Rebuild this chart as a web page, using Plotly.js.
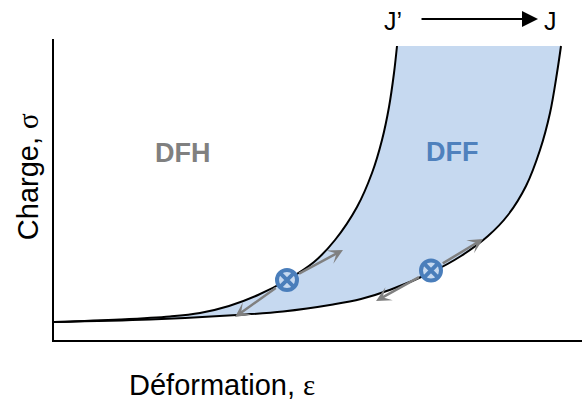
<!DOCTYPE html>
<html>
<head>
<meta charset="utf-8">
<script src="https://cdn.plot.ly/plotly-3.0.1.min.js"></script>
<style>html,body{margin:0;padding:0;background:#fff;}#chart{width:582px;height:400px;}</style>
</head>
<body>
<div id="chart"></div>
<script>
// Curve J' (left, steeper) : strain / stress (arbitrary units)
const strainJp = [0, 66, 116, 146, 175, 204, 233, 260, 281, 303, 318, 328, 335, 340, 343];
const stressJp = [18, 20.5, 23.5, 27, 34, 45, 60, 78, 100, 133, 167, 200, 233, 267, 294];
// Curve J (right)
const strainJ = [0, 96, 183, 229, 279, 307, 337, 378, 407, 434, 454, 472, 486, 496, 503, 507];
const stressJ = [18, 20.5, 25, 28.5, 35.5, 41, 50.5, 68, 84, 104, 125, 154, 190, 227, 267, 294];
// Crack points (circles) on the curves
const pointStrain = [233, 377];
const pointStress = [60, 69.5];
// Gray arrow tips (two per point: up-right, down-left)
const arrowTipStrain = [[289, 181], [429, 322]];
const arrowTipStress = [[90, 23], [101, 39]];
// Region labels
const regionLabels = ['DFH', 'DFF'];
const xTitle = 'Déformation, <span style="font-family:\'Liberation Serif\',serif">ε</span>';
const yTitle = 'Charge, <span style="font-family:\'Liberation Serif\',serif">σ</span>';
const curveLabels = ['J’', 'J'];

const FONT = 'Arial, "Liberation Sans", sans-serif';
const SM = 1;

const traces = [
  {x: strainJp, y: stressJp, mode: 'lines', line: {color: 'rgba(0,0,0,0)', width: 0, shape: 'spline', smoothing: SM},
   hoverinfo: 'skip', showlegend: false},
  {x: strainJ, y: stressJ, mode: 'lines', fill: 'tonexty', fillcolor: '#c6d9f0',
   line: {color: 'rgba(0,0,0,0)', width: 0, shape: 'spline', smoothing: SM}, hoverinfo: 'skip', showlegend: false},
  {x: strainJp, y: stressJp, mode: 'lines', line: {color: '#000', width: 2, shape: 'spline', smoothing: SM}, showlegend: false},
  {x: strainJ, y: stressJ, mode: 'lines', line: {color: '#000', width: 2, shape: 'spline', smoothing: SM}, showlegend: false},
  {x: pointStrain, y: pointStress, mode: 'markers', showlegend: false,
   marker: {symbol: 'circle-x', size: 20, color: '#c6d9f0', line: {color: '#4a7ebb', width: 4}}}
];

const annotations = [];
for (let i = 0; i < pointStrain.length; i++) {
  for (let k = 0; k < 2; k++) {
    annotations.push({x: arrowTipStrain[i][k], y: arrowTipStress[i][k], xref: 'x', yref: 'y',
      ax: pointStrain[i], ay: pointStress[i], axref: 'x', ayref: 'y', text: '',
      showarrow: true, arrowhead: 3, arrowsize: 1, arrowwidth: 2.5, arrowcolor: '#808080',
      startstandoff: 12});
  }
}
annotations.push(
  {x: 129, y: 187, xref: 'x', yref: 'y', text: '<b>' + regionLabels[0] + '</b>', showarrow: false,
   font: {family: FONT, size: 27, color: '#808080'}},
  {x: 398, y: 188, xref: 'x', yref: 'y', text: '<b>' + regionLabels[1] + '</b>', showarrow: false,
   font: {family: FONT, size: 27, color: '#4f81bd'}},
  {x: 0.318, y: -0.1495, xref: 'paper', yref: 'paper', text: xTitle, showarrow: false,
   xanchor: 'center', yanchor: 'middle', font: {family: FONT, size: 29, color: '#000'}},
  {x: -0.049, y: 0.5415, xref: 'paper', yref: 'paper', text: yTitle, showarrow: false, textangle: -90,
   xanchor: 'center', yanchor: 'middle', font: {family: FONT, size: 29, color: '#000'}},
  {x: 0.642, y: 1.0598, xref: 'paper', yref: 'paper', text: curveLabels[0], showarrow: false,
   xanchor: 'center', yanchor: 'middle', font: {family: FONT, size: 25, color: '#000'}},
  {x: 0.941, y: 1.0598, xref: 'paper', yref: 'paper', text: curveLabels[1], showarrow: false,
   xanchor: 'center', yanchor: 'middle', font: {family: FONT, size: 25, color: '#000'}},
  {x: 0.9167, y: 1.0664, xref: 'paper', yref: 'paper', text: '', showarrow: true,
   ax: -118, ay: 0, arrowhead: 2, arrowsize: 1.6, arrowwidth: 2, arrowcolor: '#000'}
);

const layout = {
  width: 582, height: 400,
  margin: {l: 54, r: 0, t: 39, b: 60},
  paper_bgcolor: '#fff', plot_bgcolor: '#fff',
  showlegend: false,
  xaxis: {range: [0, 528], showline: true, linecolor: '#000', linewidth: 2, showgrid: false,
          zeroline: false, showticklabels: false, ticks: '', fixedrange: true},
  yaxis: {range: [0, 301], showline: true, linecolor: '#000', linewidth: 2, showgrid: false,
          zeroline: false, showticklabels: false, ticks: '', fixedrange: true},
  annotations: annotations
};

Plotly.newPlot('chart', traces, layout, {displayModeBar: false, staticPlot: true});
</script>
</body>
</html>
